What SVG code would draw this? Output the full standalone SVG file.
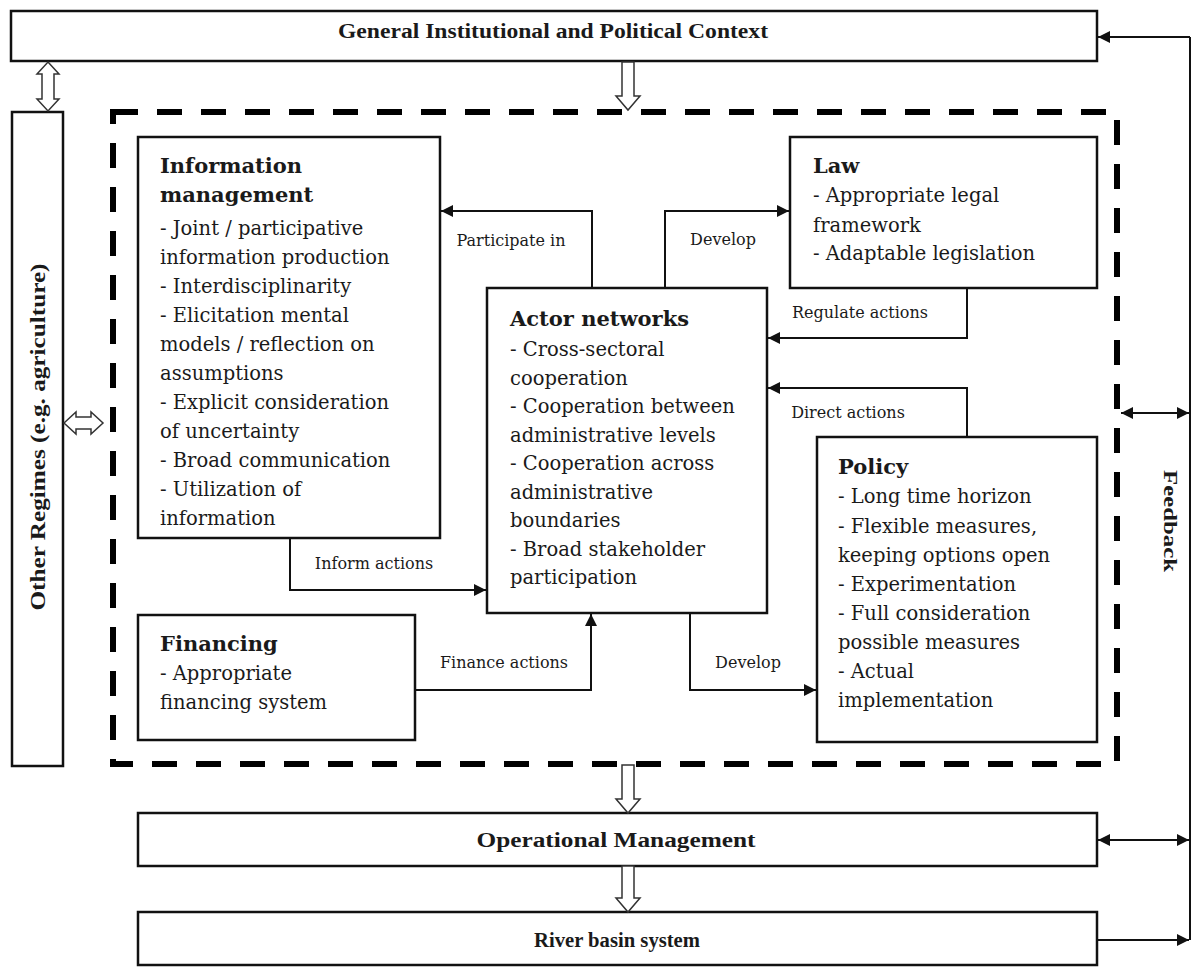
<svg xmlns="http://www.w3.org/2000/svg" width="1198" height="967" viewBox="0 0 1198 967">
<style>
.box{fill:#fff;stroke:#111;stroke-width:2.5}
.t{font-family:"Liberation Serif","Times New Roman",serif;fill:#1a1a1a}
.s{font-family:"DejaVu Serif","Liberation Serif",serif;fill:#1a1a1a}
.b{font-size:20px;font-weight:bold}
.h{font-size:21px;font-weight:bold}
.body{font-size:19.5px}
.lab{font-size:16px}
.c{fill:none;stroke:#111;stroke-width:2}
.hollow{fill:#fff;stroke:#333;stroke-width:1.5}
</style>
<defs>
<marker id="ah" viewBox="0 0 10 10" refX="10" refY="5" markerWidth="15" markerHeight="12" markerUnits="userSpaceOnUse" orient="auto-start-reverse">
<path d="M0,0 L10,5 L0,10 z" fill="#111"/>
</marker>
</defs>
<rect width="1198" height="967" fill="#fff"/>

<g id="context">
<rect class="box" x="11" y="11" width="1086" height="50"/>
<text class="t b" x="553" y="38" text-anchor="middle" textLength="430" lengthAdjust="spacingAndGlyphs">General Institutional and Political Context</text>
</g>

<g id="other-regimes">
<rect class="box" x="12" y="112" width="51" height="654"/>
<text class="t" x="0" y="0" font-size="21" font-weight="bold" text-anchor="middle" transform="translate(45,437) rotate(-90)" textLength="347" lengthAdjust="spacingAndGlyphs">Other Regimes (e.g. agriculture)</text>
</g>

<g id="strategic-level">
<rect x="113" y="112" width="1004" height="652" fill="none" stroke="#000" stroke-width="6" stroke-dasharray="25 19"/>
</g>

<g id="information-management">
<rect class="box" x="138" y="137" width="302" height="401"/>
<text class="s h" x="160" y="173">Information</text>
<text class="s h" x="160" y="202">management</text>
<text class="s body">
<tspan x="160" y="235">- Joint / participative</tspan>
<tspan x="160" y="264">information production</tspan>
<tspan x="160" y="293">- Interdisciplinarity</tspan>
<tspan x="160" y="322">- Elicitation mental</tspan>
<tspan x="160" y="351">models / reflection on</tspan>
<tspan x="160" y="380">assumptions</tspan>
<tspan x="160" y="409">- Explicit consideration</tspan>
<tspan x="160" y="438">of uncertainty</tspan>
<tspan x="160" y="467">- Broad communication</tspan>
<tspan x="160" y="496">- Utilization of</tspan>
<tspan x="160" y="525">information</tspan>
</text>
</g>

<g id="actor-networks">
<rect class="box" x="487" y="288" width="280" height="325"/>
<text class="s h" x="510" y="326">Actor networks</text>
<text class="s body">
<tspan x="510" y="356">- Cross-sectoral</tspan>
<tspan x="510" y="385">cooperation</tspan>
<tspan x="510" y="413">- Cooperation between</tspan>
<tspan x="510" y="442">administrative levels</tspan>
<tspan x="510" y="470">- Cooperation across</tspan>
<tspan x="510" y="499">administrative</tspan>
<tspan x="510" y="527">boundaries</tspan>
<tspan x="510" y="556">- Broad stakeholder</tspan>
<tspan x="510" y="584">participation</tspan>
</text>
</g>

<g id="law">
<rect class="box" x="790" y="137" width="307" height="151"/>
<text class="s h" x="813" y="173">Law</text>
<text class="s body">
<tspan x="813" y="202">- Appropriate legal</tspan>
<tspan x="813" y="232">framework</tspan>
<tspan x="813" y="260">- Adaptable legislation</tspan>
</text>
</g>

<g id="policy">
<rect class="box" x="817" y="437" width="280" height="305"/>
<text class="s h" x="838" y="474">Policy</text>
<text class="s body">
<tspan x="838" y="503">- Long time horizon</tspan>
<tspan x="838" y="533">- Flexible measures,</tspan>
<tspan x="838" y="562">keeping options open</tspan>
<tspan x="838" y="591">- Experimentation</tspan>
<tspan x="838" y="620">- Full consideration</tspan>
<tspan x="838" y="649">possible measures</tspan>
<tspan x="838" y="678">- Actual</tspan>
<tspan x="838" y="707">implementation</tspan>
</text>
</g>

<g id="financing">
<rect class="box" x="138" y="615" width="277" height="125"/>
<text class="s h" x="160" y="651">Financing</text>
<text class="s body">
<tspan x="160" y="680">- Appropriate</tspan>
<tspan x="160" y="709">financing system</tspan>
</text>
</g>

<g id="operational-management">
<rect class="box" x="138" y="813" width="959" height="53"/>
<text class="t b" x="616" y="847" text-anchor="middle" textLength="279" lengthAdjust="spacingAndGlyphs">Operational Management</text>
</g>

<g id="river-basin">
<rect class="box" x="138" y="912" width="959" height="53"/>
<text class="t b" x="617" y="947" text-anchor="middle" textLength="166" lengthAdjust="spacingAndGlyphs">River basin system</text>
</g>

<g id="feedback-label">
<text class="t" x="0" y="0" font-size="19" font-weight="bold" text-anchor="middle" transform="translate(1164,521) rotate(90)" textLength="102" lengthAdjust="spacingAndGlyphs">Feedback</text>
</g>

<g id="connectors">
<path class="hollow" d="M48,62 L59,74 L54,74 L54,99 L59,99 L48,111 L37,99 L42,99 L42,74 L37,74 Z"/>
<path class="hollow" d="M64,423 L76,412 L76,417 L91,417 L91,412 L103,423 L91,434 L91,429 L76,429 L76,434 Z"/>
<path class="hollow" d="M622,62 L634,62 L634,96 L640,96 L628,110 L616,96 L622,96 Z"/>
<path class="hollow" d="M622,765 L634,765 L634,799 L640,799 L628,813 L616,799 L622,799 Z"/>
<path class="hollow" d="M622,866 L634,866 L634,898 L640,898 L628,912 L616,898 L622,898 Z"/>

<path class="c" d="M592,288 V211 H441" marker-end="url(#ah)"/>
<text class="s lab" x="511" y="246" text-anchor="middle">Participate in</text>
<path class="c" d="M665,288 V211 H789" marker-end="url(#ah)"/>
<text class="s lab" x="723" y="245" text-anchor="middle">Develop</text>
<path class="c" d="M967,288 V338 H768" marker-end="url(#ah)"/>
<text class="s lab" x="860" y="318" text-anchor="middle">Regulate actions</text>
<path class="c" d="M967,437 V388 H768" marker-end="url(#ah)"/>
<text class="s lab" x="848" y="418" text-anchor="middle">Direct actions</text>
<path class="c" d="M290,538 V590 H486" marker-end="url(#ah)"/>
<text class="s lab" x="374" y="569" text-anchor="middle">Inform actions</text>
<path class="c" d="M415,690 H591 V614" marker-end="url(#ah)"/>
<text class="s lab" x="504" y="668" text-anchor="middle">Finance actions</text>
<path class="c" d="M690,613 V690 H816" marker-end="url(#ah)"/>
<text class="s lab" x="748" y="668" text-anchor="middle">Develop</text>

<path class="c" d="M1190,37 H1098" marker-end="url(#ah)"/>
<path class="c" d="M1190,37 V940"/>
<path class="c" d="M1121,413 H1189" marker-start="url(#ah)" marker-end="url(#ah)"/>
<path class="c" d="M1098,840 H1189" marker-start="url(#ah)" marker-end="url(#ah)"/>
<path class="c" d="M1098,940 H1189" marker-end="url(#ah)"/>
</g>
</svg>
